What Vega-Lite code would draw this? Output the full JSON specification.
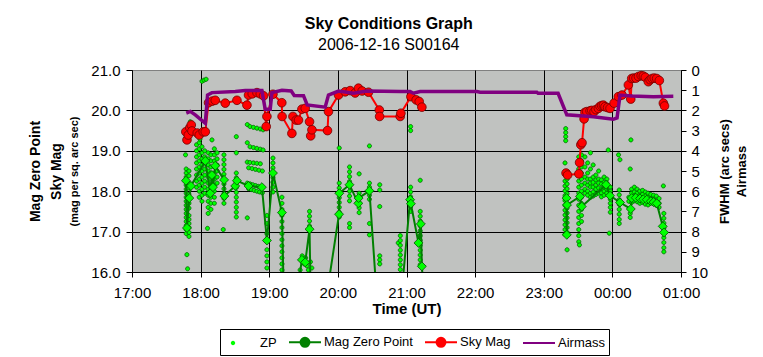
{
"$schema": "https://vega.github.io/schema/vega-lite/v6.json",
"width": 549, "height": 202,
"autosize": {"type": "none"},
"padding": {"left": 132, "top": 70, "right": 82, "bottom": 85},
"background": "white",
"config": {
  "view": {"fill": "#c0c2c0", "stroke": "#808080", "strokeWidth": 1},
  "font": "Liberation Sans",
  "axis": {"domainColor": "black", "tickColor": "black", "labelColor": "black", "titleColor": "black", "labelFont": "Liberation Sans", "titleFont": "Liberation Sans"},
  "legend": {"orient": "none", "legendX": 88, "legendY": 259, "direction": "horizontal",
    "strokeColor": "black", "fillColor": "white", "padding": 4, "labelFontSize": 13, "labelFont": "Liberation Sans", "labelColor": "black",
    "labelOffset": 18, "columnPadding": 8, "symbolSize": 256, "symbolStrokeWidth": 2, "symbolOpacity": 1}
},
"title": {"text": "Sky Conditions Graph", "subtitle": "2006-12-16 S00164", "fontSize": 16, "fontWeight": "bold", "color": "black", "subtitleFontSize": 16, "subtitleFontWeight": "normal", "subtitleColor": "black", "font": "Liberation Sans", "subtitleFont": "Liberation Sans", "anchor": "middle", "frame": "bounds", "offset": 10, "subtitlePadding": 5},
"datasets": {
"zp": [
{"t":17.79,"v":18.55},{"t":17.79,"v":18.45},{"t":17.79,"v":18.35},{"t":17.79,"v":18.25},{"t":17.79,"v":18.15},{"t":17.79,"v":18.05},{"t":17.79,"v":17.95},{"t":17.79,"v":17.85},{"t":17.79,"v":17.75},{"t":17.79,"v":17.65},{"t":17.79,"v":17.55},{"t":17.79,"v":17.45},{"t":17.79,"v":17.35},{"t":17.79,"v":17.25},{"t":17.79,"v":17.15},{"t":17.79,"v":17.05},{"t":17.79,"v":16.95},
{"t":17.83,"v":18.5},{"t":17.83,"v":18.38},{"t":17.83,"v":18.2},{"t":17.83,"v":18.08},{"t":17.83,"v":17.92},{"t":17.83,"v":17.8},{"t":17.83,"v":17.7},{"t":17.83,"v":17.58},{"t":17.83,"v":17.4},{"t":17.83,"v":17.3},{"t":17.83,"v":17.2},{"t":17.83,"v":17.1},{"t":17.83,"v":16.98},{"t":17.83,"v":16.88},
{"t":17.8,"v":16.43},{"t":17.81,"v":16.08},{"t":17.78,"v":18.9},{"t":17.85,"v":19.72},
{"t":17.94,"v":19.15},{"t":17.94,"v":19.0},{"t":17.94,"v":18.85},{"t":17.94,"v":18.7},{"t":17.94,"v":18.55},{"t":17.94,"v":18.4},{"t":17.94,"v":18.25},{"t":17.94,"v":18.1},
{"t":17.98,"v":19.2},{"t":17.98,"v":19.05},{"t":17.98,"v":18.9},{"t":17.98,"v":18.75},{"t":17.98,"v":18.6},{"t":17.98,"v":18.45},{"t":17.98,"v":18.3},{"t":17.98,"v":18.15},{"t":17.98,"v":18.0},{"t":17.98,"v":17.85},
{"t":18.02,"v":19.1},{"t":18.02,"v":18.95},{"t":18.02,"v":18.8},{"t":18.02,"v":18.65},{"t":18.02,"v":18.5},{"t":18.02,"v":18.35},{"t":18.02,"v":18.2},{"t":18.02,"v":18.05},{"t":18.02,"v":17.9},{"t":18.02,"v":17.75},
{"t":18.06,"v":19.0},{"t":18.06,"v":18.85},{"t":18.06,"v":18.7},{"t":18.06,"v":18.55},{"t":18.06,"v":18.4},{"t":18.06,"v":18.25},{"t":18.06,"v":18.1},{"t":18.06,"v":17.95},
{"t":18.02,"v":20.72},{"t":18.05,"v":20.75},{"t":18.08,"v":20.77},{"t":17.99,"v":19.29},{"t":18.165,"v":19.27},
{"t":18.11,"v":18.95},{"t":18.11,"v":18.8},{"t":18.11,"v":18.65},{"t":18.11,"v":18.5},{"t":18.11,"v":18.35},{"t":18.11,"v":18.2},{"t":18.11,"v":18.05},{"t":18.11,"v":17.9},{"t":18.11,"v":17.75},{"t":18.11,"v":17.6},{"t":18.11,"v":17.45},
{"t":18.15,"v":18.9},{"t":18.15,"v":18.75},{"t":18.15,"v":18.6},{"t":18.15,"v":18.45},{"t":18.15,"v":18.3},{"t":18.15,"v":18.15},{"t":18.15,"v":18.0},{"t":18.15,"v":17.85},{"t":18.15,"v":17.7},{"t":18.15,"v":17.55},
{"t":18.2,"v":19.05},{"t":18.2,"v":18.9},{"t":18.2,"v":18.75},{"t":18.2,"v":18.6},{"t":18.2,"v":18.45},{"t":18.2,"v":18.3},{"t":18.2,"v":18.15},{"t":18.2,"v":18.0},{"t":18.2,"v":17.85},{"t":18.2,"v":17.7},
{"t":18.24,"v":18.95},{"t":18.24,"v":18.8},{"t":18.24,"v":18.65},{"t":18.24,"v":18.5},{"t":18.24,"v":18.35},{"t":18.24,"v":18.2},{"t":18.1,"v":17.08},
{"t":18.34,"v":18.9},{"t":18.34,"v":18.78},{"t":18.34,"v":18.66},{"t":18.34,"v":18.54},{"t":18.34,"v":18.42},{"t":18.34,"v":18.3},{"t":18.34,"v":18.18},{"t":18.34,"v":18.06},{"t":18.34,"v":17.94},{"t":18.34,"v":17.82},{"t":18.34,"v":17.7},{"t":18.33,"v":17.05},
{"t":18.52,"v":18.95},{"t":18.52,"v":18.45},{"t":18.52,"v":18.33},{"t":18.52,"v":18.21},{"t":18.52,"v":18.09},{"t":18.52,"v":17.97},{"t":18.52,"v":17.85},{"t":18.52,"v":17.73},{"t":18.52,"v":17.6},{"t":18.52,"v":17.48},{"t":18.52,"v":17.36},{"t":18.52,"v":19.35},
{"t":18.68,"v":19.65},{"t":18.72,"v":19.6},{"t":18.77,"v":19.58},{"t":18.82,"v":19.56},{"t":18.87,"v":19.54},{"t":18.91,"v":19.52},
{"t":18.68,"v":19.2},{"t":18.72,"v":19.1},{"t":18.77,"v":19.08},{"t":18.82,"v":19.06},{"t":18.87,"v":19.04},{"t":18.91,"v":19.02},
{"t":18.68,"v":18.72},{"t":18.72,"v":18.71},{"t":18.77,"v":18.7},{"t":18.82,"v":18.69},{"t":18.87,"v":18.68},
{"t":18.7,"v":18.58},{"t":18.75,"v":18.56},{"t":18.8,"v":18.54},{"t":18.85,"v":18.52},{"t":18.9,"v":18.5},
{"t":18.68,"v":18.2},{"t":18.72,"v":18.18},{"t":18.76,"v":18.16},{"t":18.8,"v":18.14},{"t":18.84,"v":18.12},{"t":18.88,"v":18.1},
{"t":18.7,"v":18.06},{"t":18.74,"v":18.04},{"t":18.78,"v":18.02},{"t":18.82,"v":18.0},{"t":18.86,"v":17.98},{"t":18.9,"v":17.96},
{"t":18.68,"v":17.34},
{"t":18.966,"v":17.4},{"t":18.966,"v":17.2},{"t":18.966,"v":16.95},{"t":18.966,"v":16.8},{"t":18.966,"v":16.55},{"t":18.966,"v":16.4},{"t":18.966,"v":16.25},{"t":18.966,"v":16.1},
{"t":19.054,"v":18.82},{"t":19.054,"v":18.7},{"t":19.054,"v":18.58},{"t":19.054,"v":18.46},{"t":19.054,"v":18.34},{"t":19.054,"v":18.22},{"t":19.054,"v":18.1},{"t":19.054,"v":17.98},
{"t":19.185,"v":17.85},{"t":19.185,"v":17.7},{"t":19.185,"v":17.55},{"t":19.185,"v":17.4},{"t":19.185,"v":17.25},{"t":19.185,"v":17.1},{"t":19.185,"v":16.95},{"t":19.185,"v":16.8},{"t":19.185,"v":16.65},{"t":19.185,"v":16.5},{"t":19.185,"v":16.35},{"t":19.185,"v":16.2},{"t":19.185,"v":16.05},
{"t":19.48,"v":16.4},{"t":19.5,"v":16.3},{"t":19.51,"v":16.2},{"t":19.53,"v":16.35},{"t":19.55,"v":16.15},{"t":19.57,"v":16.05},{"t":19.6,"v":16.25},{"t":19.62,"v":16.1},{"t":19.45,"v":16.05},
{"t":19.587,"v":17.5},{"t":19.587,"v":17.38},{"t":19.587,"v":17.26},{"t":19.587,"v":17.14},{"t":19.587,"v":17.02},
{"t":20.02,"v":19.07},{"t":20.02,"v":18.2},{"t":20.02,"v":18.08},{"t":20.02,"v":17.96},{"t":20.02,"v":17.84},{"t":20.02,"v":17.72},{"t":20.02,"v":17.6},{"t":20.02,"v":17.48},{"t":20.02,"v":17.36},
{"t":20.17,"v":18.6},{"t":20.17,"v":18.48},{"t":20.17,"v":18.36},{"t":20.17,"v":18.24},{"t":20.17,"v":18.12},{"t":20.17,"v":18.0},{"t":20.17,"v":17.88},{"t":20.17,"v":17.76},{"t":20.17,"v":17.2},{"t":20.17,"v":17.1},
{"t":20.31,"v":18.43},{"t":20.31,"v":17.95},{"t":20.31,"v":17.83},{"t":20.31,"v":17.71},{"t":20.31,"v":17.59},{"t":20.31,"v":17.47},
{"t":20.46,"v":19.12},{"t":20.46,"v":18.2},{"t":20.46,"v":18.1},{"t":20.46,"v":18.0},{"t":20.46,"v":17.9},{"t":20.46,"v":17.8},{"t":20.46,"v":17.2},{"t":20.46,"v":16.92},
{"t":20.61,"v":18.16},{"t":20.61,"v":18.03},{"t":20.61,"v":17.62},{"t":20.61,"v":16.4},{"t":20.61,"v":16.3},{"t":20.61,"v":16.2},{"t":20.88,"v":16.72},
{"t":20.91,"v":16.9},{"t":20.91,"v":16.78},{"t":20.91,"v":16.66},{"t":20.91,"v":16.54},{"t":20.91,"v":16.42},{"t":20.91,"v":16.3},{"t":20.91,"v":16.18},{"t":20.91,"v":16.06},
{"t":21.06,"v":19.6},{"t":21.06,"v":19.5},
{"t":21.06,"v":18.1},{"t":21.06,"v":17.98},{"t":21.06,"v":17.86},{"t":21.06,"v":17.74},{"t":21.06,"v":17.62},{"t":21.06,"v":17.5},
{"t":21.2,"v":18.27},
{"t":21.2,"v":17.5},{"t":21.2,"v":17.38},{"t":21.2,"v":17.26},{"t":21.2,"v":17.14},{"t":21.2,"v":17.02},{"t":21.2,"v":16.9},{"t":21.2,"v":16.78},{"t":21.2,"v":16.66},{"t":21.2,"v":16.54},{"t":21.2,"v":16.42},{"t":21.2,"v":16.3},{"t":21.2,"v":16.18},
{"t":23.32,"v":19.55},{"t":23.32,"v":19.45},{"t":23.32,"v":19.35},{"t":23.32,"v":19.25},{"t":23.31,"v":18.7},
{"t":23.31,"v":18.25},{"t":23.31,"v":18.13},{"t":23.31,"v":18.01},{"t":23.31,"v":17.89},{"t":23.31,"v":17.77},{"t":23.31,"v":17.65},{"t":23.31,"v":17.53},{"t":23.31,"v":17.41},{"t":23.31,"v":17.29},{"t":23.31,"v":17.17},{"t":23.31,"v":17.05},{"t":23.31,"v":16.93},
{"t":23.34,"v":18.3},{"t":23.34,"v":18.18},{"t":23.34,"v":18.06},{"t":23.34,"v":17.94},{"t":23.34,"v":17.82},{"t":23.34,"v":17.7},{"t":23.34,"v":17.58},{"t":23.34,"v":17.46},{"t":23.34,"v":17.34},{"t":23.34,"v":17.22},{"t":23.34,"v":17.1},{"t":23.34,"v":16.98},{"t":23.34,"v":16.55},
{"t":23.51,"v":18.85},{"t":23.51,"v":18.7},{"t":23.51,"v":18.55},{"t":23.51,"v":18.4},{"t":23.51,"v":18.25},{"t":23.51,"v":18.1},{"t":23.51,"v":17.95},{"t":23.51,"v":17.8},{"t":23.51,"v":17.65},{"t":23.51,"v":17.5},{"t":23.51,"v":17.35},{"t":23.51,"v":17.2},{"t":23.51,"v":17.05},{"t":23.51,"v":16.9},{"t":23.51,"v":16.75},
{"t":23.55,"v":18.9},{"t":23.55,"v":18.75},{"t":23.55,"v":18.6},{"t":23.55,"v":18.45},{"t":23.55,"v":18.3},{"t":23.55,"v":18.15},{"t":23.55,"v":18.0},{"t":23.55,"v":17.85},{"t":23.55,"v":17.7},{"t":23.55,"v":17.55},{"t":23.55,"v":17.4},{"t":23.55,"v":17.25},{"t":23.52,"v":16.67},
{"t":23.6,"v":18.85},{"t":23.6,"v":18.6},{"t":23.6,"v":18.35},{"t":23.6,"v":18.2},{"t":23.6,"v":18.05},{"t":23.6,"v":17.95},
{"t":23.64,"v":18.7},{"t":23.64,"v":18.45},{"t":23.64,"v":18.3},{"t":23.64,"v":18.15},{"t":23.64,"v":18.0},{"t":23.64,"v":17.9},
{"t":23.68,"v":18.95},{"t":23.68,"v":18.55},{"t":23.68,"v":18.3},{"t":23.68,"v":18.2},{"t":23.68,"v":18.1},{"t":23.68,"v":17.95},{"t":23.68,"v":17.85},
{"t":23.72,"v":18.65},{"t":23.72,"v":18.35},{"t":23.72,"v":18.22},{"t":23.72,"v":18.1},{"t":23.72,"v":17.98},{"t":23.72,"v":17.88},
{"t":23.76,"v":18.4},{"t":23.76,"v":18.28},{"t":23.76,"v":18.15},{"t":23.76,"v":18.05},{"t":23.76,"v":17.92},
{"t":23.8,"v":18.5},{"t":23.8,"v":18.3},{"t":23.8,"v":18.2},{"t":23.8,"v":18.08},{"t":23.8,"v":17.95},
{"t":23.84,"v":18.28},{"t":23.84,"v":18.18},{"t":23.84,"v":18.06},{"t":23.84,"v":17.96},{"t":23.84,"v":17.86},
{"t":23.88,"v":18.35},{"t":23.88,"v":18.22},{"t":23.88,"v":18.1},{"t":23.88,"v":18.0},{"t":23.88,"v":17.9},
{"t":23.92,"v":18.3},{"t":23.92,"v":18.2},{"t":23.92,"v":18.05},{"t":23.92,"v":17.95},
{"t":23.97,"v":18.1},{"t":23.97,"v":18.0},{"t":23.97,"v":17.9},{"t":23.97,"v":17.8},{"t":23.97,"v":17.7},{"t":23.97,"v":17.6},{"t":23.97,"v":17.48},{"t":23.955,"v":16.96},{"t":23.94,"v":19.02},
{"t":24.09,"v":18.9},{"t":24.11,"v":18.78},
{"t":24.1,"v":18.03},{"t":24.1,"v":17.91},{"t":24.1,"v":17.79},{"t":24.1,"v":17.67},{"t":24.1,"v":17.55},{"t":24.1,"v":17.43},{"t":24.1,"v":17.3},{"t":24.1,"v":17.2},
{"t":24.27,"v":19.27},{"t":24.26,"v":18.55},
{"t":24.24,"v":17.85},{"t":24.24,"v":17.75},
{"t":24.28,"v":18.05},{"t":24.28,"v":17.95},{"t":24.28,"v":17.85},{"t":24.28,"v":17.72},
{"t":24.32,"v":18.1},{"t":24.32,"v":17.98},{"t":24.32,"v":17.88},{"t":24.32,"v":17.76},
{"t":24.36,"v":18.05},{"t":24.36,"v":17.95},{"t":24.36,"v":17.85},{"t":24.36,"v":17.74},
{"t":24.4,"v":18.0},{"t":24.4,"v":17.9},{"t":24.4,"v":17.8},{"t":24.4,"v":17.7},
{"t":24.44,"v":18.02},{"t":24.44,"v":17.92},{"t":24.44,"v":17.82},{"t":24.44,"v":17.72},
{"t":24.48,"v":17.98},{"t":24.48,"v":17.88},{"t":24.48,"v":17.78},{"t":24.48,"v":17.68},
{"t":24.52,"v":17.95},{"t":24.52,"v":17.85},{"t":24.52,"v":17.75},{"t":24.52,"v":17.66},
{"t":24.56,"v":17.92},{"t":24.56,"v":17.82},{"t":24.56,"v":17.72},
{"t":24.6,"v":17.9},{"t":24.6,"v":17.8},{"t":24.6,"v":17.7},
{"t":24.64,"v":17.88},{"t":24.64,"v":17.76},{"t":24.64,"v":17.65},
{"t":24.68,"v":17.82},{"t":24.68,"v":17.7},{"t":24.68,"v":17.6},
{"t":24.26,"v":17.55},{"t":24.26,"v":17.45},{"t":24.26,"v":17.35},
{"t":24.743,"v":18.13},
{"t":24.75,"v":17.45},{"t":24.75,"v":17.33},{"t":24.75,"v":17.21},{"t":24.75,"v":17.09},{"t":24.75,"v":16.97},{"t":24.75,"v":16.85},{"t":24.75,"v":16.73},{"t":24.75,"v":16.6},{"t":24.75,"v":16.5}
],
"mzp": [
{"t":17.786,"v":18.26,"seg":1},{"t":17.801,"v":17.09,"seg":1},{"t":17.835,"v":17.83,"seg":1},{"t":17.859,"v":18.13,"seg":1},{"t":18.068,"v":18.75,"seg":1},{"t":18.14,"v":17.95,"seg":1},{"t":18.165,"v":18.4,"seg":1},{"t":18.18,"v":18.1,"seg":1},{"t":18.213,"v":18.63,"seg":1},{"t":18.342,"v":18.28,"seg":1},{"t":18.346,"v":17.88,"seg":1},{"t":18.504,"v":18.13,"seg":1},{"t":18.529,"v":18.26,"seg":1},{"t":18.698,"v":18.13,"seg":1},{"t":18.893,"v":18.1,"seg":1},{"t":18.966,"v":16.78,"seg":1},{"t":19.054,"v":18.45,"seg":1},{"t":19.185,"v":17.47,"seg":1},{"t":19.22,"v":14.8,"seg":1},{"t":19.41,"v":15.56,"seg":1},{"t":19.476,"v":16.3,"seg":1},{"t":19.524,"v":16.24,"seg":1},{"t":19.587,"v":17.06,"seg":1},{"t":19.61,"v":14.8,"seg":1},{"t":19.86,"v":15.68,"seg":1},{"t":20.017,"v":17.43,"seg":1},{"t":20.021,"v":17.95,"seg":1},{"t":20.169,"v":18.16,"seg":1},{"t":20.298,"v":17.7,"seg":1},{"t":20.302,"v":17.83,"seg":1},{"t":20.46,"v":18.01,"seg":1},{"t":20.57,"v":15.31,"seg":1},{"t":20.92,"v":15.31,"seg":1},{"t":21.053,"v":17.79,"seg":1},{"t":21.064,"v":17.69,"seg":1},{"t":21.174,"v":16.72,"seg":1},{"t":21.209,"v":17.19,"seg":1},{"t":21.224,"v":16.14,"seg":1},{"t":21.26,"v":15.3,"seg":1},
{"t":23.333,"v":17.83,"seg":2},{"t":23.336,"v":16.92,"seg":2},{"t":23.339,"v":17.66,"seg":2},{"t":23.528,"v":17.87,"seg":2},{"t":23.554,"v":17.62,"seg":2},{"t":23.908,"v":18.16,"seg":2},{"t":23.966,"v":17.89,"seg":2},{"t":24.112,"v":17.72,"seg":2},{"t":24.268,"v":17.56,"seg":2},{"t":24.282,"v":17.83,"seg":2},{"t":24.34,"v":17.84,"seg":2},{"t":24.403,"v":17.82,"seg":2},{"t":24.45,"v":17.8,"seg":2},{"t":24.501,"v":17.79,"seg":2},{"t":24.56,"v":17.75,"seg":2},{"t":24.6,"v":17.73,"seg":2},{"t":24.646,"v":17.7,"seg":2},{"t":24.734,"v":17.13,"seg":2},{"t":24.753,"v":16.98,"seg":2}
],
"sky": [
{"t":17.784,"v":19.47,"seg":1},{"t":17.801,"v":19.27,"seg":1},{"t":17.82,"v":19.39,"seg":1},{"t":17.842,"v":19.57,"seg":1},{"t":17.864,"v":19.64,"seg":1},{"t":17.874,"v":19.49,"seg":1},{"t":17.951,"v":19.44,"seg":1},{"t":17.98,"v":19.39,"seg":1},{"t":18.038,"v":19.47,"seg":1},{"t":18.068,"v":19.47,"seg":1},{"t":18.116,"v":20.19,"seg":1},{"t":18.17,"v":20.23,"seg":1},{"t":18.213,"v":20.25,"seg":1},{"t":18.359,"v":20.18,"seg":1},{"t":18.529,"v":20.25,"seg":1},{"t":18.675,"v":20.13,"seg":1},{"t":18.698,"v":20.38,"seg":1},{"t":18.752,"v":20.41,"seg":1},{"t":18.821,"v":20.44,"seg":1},{"t":18.869,"v":20.41,"seg":1},{"t":18.917,"v":20.36,"seg":1},{"t":18.956,"v":19.6,"seg":1},{"t":18.966,"v":19.85,"seg":1},{"t":19.054,"v":20.4,"seg":1},{"t":19.183,"v":20.19,"seg":1},{"t":19.187,"v":19.85,"seg":1},{"t":19.33,"v":19.43,"seg":1},{"t":19.345,"v":19.85,"seg":1},{"t":19.393,"v":19.76,"seg":1},{"t":19.426,"v":19.76,"seg":1},{"t":19.476,"v":20.03,"seg":1},{"t":19.524,"v":20.05,"seg":1},{"t":19.587,"v":19.72,"seg":1},{"t":19.604,"v":19.37,"seg":1},{"t":19.622,"v":19.52,"seg":1},{"t":19.849,"v":19.5,"seg":1},{"t":19.863,"v":19.97,"seg":1},{"t":20.009,"v":20.38,"seg":1},{"t":20.107,"v":20.46,"seg":1},{"t":20.179,"v":20.49,"seg":1},{"t":20.252,"v":20.43,"seg":1},{"t":20.3,"v":20.55,"seg":1},{"t":20.354,"v":20.48,"seg":1},{"t":20.446,"v":20.45,"seg":1},{"t":20.604,"v":20.01,"seg":1},{"t":20.608,"v":19.85,"seg":1},{"t":20.908,"v":19.85,"seg":1},{"t":20.918,"v":19.93,"seg":1},{"t":21.064,"v":20.34,"seg":1},{"t":21.141,"v":20.26,"seg":1},{"t":21.185,"v":20.22,"seg":1},{"t":21.224,"v":20.08,"seg":1},
{"t":23.325,"v":18.45,"seg":2},{"t":23.347,"v":18.4,"seg":2},{"t":23.512,"v":18.43,"seg":2},{"t":23.522,"v":18.71,"seg":2},{"t":23.54,"v":19.15,"seg":2},{"t":23.558,"v":19.2,"seg":2},{"t":23.588,"v":19.79,"seg":2},{"t":23.6,"v":19.95,"seg":2},{"t":23.627,"v":19.97,"seg":2},{"t":23.675,"v":19.99,"seg":2},{"t":23.7,"v":20.0,"seg":2},{"t":23.733,"v":19.97,"seg":2},{"t":23.76,"v":20.02,"seg":2},{"t":23.796,"v":20.05,"seg":2},{"t":23.82,"v":20.1,"seg":2},{"t":23.845,"v":20.12,"seg":2},{"t":23.87,"v":20.13,"seg":2},{"t":23.893,"v":20.09,"seg":2},{"t":23.93,"v":20.07,"seg":2},{"t":23.966,"v":20.05,"seg":2},{"t":24.025,"v":20.18,"seg":2},{"t":24.087,"v":20.34,"seg":2},{"t":24.141,"v":20.38,"seg":2},{"t":24.233,"v":20.63,"seg":2},{"t":24.268,"v":20.28,"seg":2},{"t":24.282,"v":20.79,"seg":2},{"t":24.31,"v":20.8,"seg":2},{"t":24.345,"v":20.8,"seg":2},{"t":24.38,"v":20.84,"seg":2},{"t":24.42,"v":20.86,"seg":2},{"t":24.451,"v":20.85,"seg":2},{"t":24.48,"v":20.82,"seg":2},{"t":24.524,"v":20.71,"seg":2},{"t":24.55,"v":20.76,"seg":2},{"t":24.578,"v":20.79,"seg":2},{"t":24.61,"v":20.8,"seg":2},{"t":24.646,"v":20.79,"seg":2},{"t":24.684,"v":20.74,"seg":2},{"t":24.743,"v":20.18,"seg":2},{"t":24.76,"v":20.11,"seg":2}
],
"air": [
{"t":17.791,"v":2.13},{"t":17.849,"v":2.05},{"t":17.922,"v":2.22},{"t":18.068,"v":2.64},{"t":18.101,"v":1.24},{"t":18.165,"v":1.12},{"t":18.505,"v":1.06},{"t":18.65,"v":1.02},{"t":18.893,"v":1.02},{"t":18.941,"v":1.94},{"t":19.014,"v":1.94},{"t":19.039,"v":1.12},{"t":19.185,"v":1.0},{"t":19.32,"v":1.04},{"t":19.364,"v":1.26},{"t":19.499,"v":1.27},{"t":19.553,"v":1.73},{"t":19.815,"v":1.84},{"t":19.863,"v":1.24},{"t":20.009,"v":1.04},{"t":20.227,"v":1.15},{"t":20.423,"v":1.04},{"t":20.908,"v":1.07},{"t":21.053,"v":1.07},{"t":21.101,"v":1.15},{"t":21.199,"v":1.07},{"t":22.025,"v":1.07},{"t":22.073,"v":1.1},{"t":22.899,"v":1.1},{"t":22.917,"v":1.15},{"t":23.209,"v":1.15},{"t":23.336,"v":2.22},{"t":23.723,"v":2.31},{"t":24.014,"v":2.44},{"t":24.068,"v":2.37},{"t":24.112,"v":1.24},{"t":24.282,"v":1.29},{"t":24.597,"v":1.32},{"t":24.888,"v":1.3}
]
},
"layer": [
  {
    "layer": [
      {
        "data": {"name": "zp"},
        "mark": {"type": "point", "filled": true, "size": 750, "stroke": "#006400", "strokeWidth": 0.8, "opacity": 1, "clip": true},
        "encoding": {
          "x": {"field": "t", "type": "quantitative", "scale": {"domain": [17, 25], "nice": false, "zero": false},
            "axis": {"values": [17,17.5,18,18.5,19,19.5,20,20.5,21,21.5,22,22.5,23,23.5,24,24.5,25],
              "title": "Time (UT)", "titleFontSize": 15, "titleFontWeight": "bold", "titlePadding": 1,
              "labelExpr": "datum.value % 1 == 0 ? pad(toString(datum.value % 24), 2, '0', 'left') + ':00' : ''",
              "labelFontSize": 15, "labelPadding": 8, "labelFlush": false, "labelOverlap": false, "labelBound": false,
              "tickSize": 5, "tickOpacity": {"condition": {"test": "datum.value % 1 != 0", "value": 0}, "value": 1},
              "grid": true, "gridColor": "black", "gridWidth": 1,
              "gridDash": {"condition": {"test": "datum.value % 1 != 0", "value": [4, 4]}, "value": []}}},
          "y": {"field": "v", "type": "quantitative", "scale": {"domain": [16, 21], "nice": false, "zero": false},
            "axis": {"orient": "left", "values": [16,16.5,17,17.5,18,18.5,19,19.5,20,20.5,21],
              "labelExpr": "datum.value % 1 == 0 ? format(datum.value, '.1f') : ''",
              "labelFontSize": 15, "labelPadding": 6, "labelFlush": false, "labelOverlap": false, "labelBound": false,
              "tickSize": 6, "tickOpacity": {"condition": {"test": "datum.value % 1 != 0", "value": 0}, "value": 1},
              "grid": true, "gridColor": "black", "gridWidth": 1,
              "gridOpacity": {"condition": {"test": "datum.value == 21", "value": 0}, "value": 1},
              "gridDash": {"condition": {"test": "datum.value % 1 != 0", "value": [4, 4]}, "value": []},
              "title": ["Mag Zero Point", "Sky Mag"], "titleFontSize": 14, "titleFontWeight": "bold", "titleLineHeight": 21, "titlePadding": 27}},
          "color": {"datum": "ZP", "type": "nominal",
            "scale": {"domain": ["ZP", "Mag Zero Point", "Sky Mag", "Airmass"], "range": ["#00ff00", "#008000", "#ff0000", "#800080"]},
            "legend": {"title": null}},
          "shape": {"datum": "ZP", "type": "nominal",
            "scale": {"domain": ["ZP", "Mag Zero Point", "Sky Mag", "Airmass"],
              "range": ["M-0.15,0A0.15,0.15 0 1,0 0.15,0A0.15,0.15 0 1,0 -0.15,0Z",
                        "M-1,0H0.44M1.56,0H3M0.44,0A0.56,0.56 0 1,0 1.56,0A0.56,0.56 0 1,0 0.44,0Z",
                        "M-1,0H0.44M1.56,0H3M0.44,0A0.56,0.56 0 1,0 1.56,0A0.56,0.56 0 1,0 0.44,0Z",
                        "M-1,0H3"]},
            "legend": {"title": null}}
        }
      },
      {
        "data": {"name": "mzp"},
        "mark": {"type": "line", "strokeWidth": 2, "clip": true},
        "encoding": {
          "x": {"field": "t", "type": "quantitative", "scale": {"domain": [17, 25], "nice": false, "zero": false}},
          "y": {"field": "v", "type": "quantitative", "scale": {"domain": [16, 21], "nice": false, "zero": false}},
          "detail": {"field": "seg", "type": "nominal"},
          "color": {"datum": "Mag Zero Point", "type": "nominal"}
        }
      },
      {
        "data": {"name": "mzp"},
        "mark": {"type": "point", "filled": true, "shape": "diamond", "size": 80, "fill": "#00ff00", "stroke": "#005000", "strokeWidth": 0.8, "opacity": 1, "clip": true},
        "encoding": {
          "x": {"field": "t", "type": "quantitative", "scale": {"domain": [17, 25], "nice": false, "zero": false}},
          "y": {"field": "v", "type": "quantitative", "scale": {"domain": [16, 21], "nice": false, "zero": false}}
        }
      }
    ]
  },
  {
    "layer": [
      {
        "data": {"name": "sky"},
        "mark": {"type": "line", "strokeWidth": 2, "clip": true},
        "encoding": {
          "x": {"field": "t", "type": "quantitative", "scale": {"domain": [17, 25], "nice": false, "zero": false}},
          "y": {"field": "v", "type": "quantitative", "scale": {"domain": [16, 21], "nice": false, "zero": false},
            "axis": {"orient": "left", "labels": false, "ticks": false, "domain": false, "grid": false,
              "title": "(mag per sq. arc sec)", "titleFontSize": 11, "titleFontWeight": "bold", "titlePadding": 53}},
          "detail": {"field": "seg", "type": "nominal"},
          "color": {"datum": "Sky Mag", "type": "nominal"}
        }
      },
      {
        "data": {"name": "sky"},
        "mark": {"type": "point", "filled": true, "shape": "circle", "size": 75, "fill": "#ff0000", "stroke": "#700000", "strokeWidth": 0.8, "opacity": 1, "clip": true},
        "encoding": {
          "x": {"field": "t", "type": "quantitative", "scale": {"domain": [17, 25], "nice": false, "zero": false}},
          "y": {"field": "v", "type": "quantitative", "scale": {"domain": [16, 21], "nice": false, "zero": false}}
        }
      }
    ]
  },
  {
    "data": {"name": "air"},
    "mark": {"type": "line", "strokeWidth": 3.5, "clip": true},
    "encoding": {
      "x": {"field": "t", "type": "quantitative", "scale": {"domain": [17, 25], "nice": false, "zero": false}},
      "y": {"field": "v", "type": "quantitative", "scale": {"domain": [0, 10], "reverse": true, "nice": false, "zero": false},
        "axis": {"orient": "right", "values": [0,1,2,3,4,5,6,7,8,9,10], "format": "d", "labelFontSize": 15, "labelPadding": 5,
          "labelFlush": false, "labelOverlap": false, "labelBound": false, "tickSize": 5, "grid": false,
          "title": ["FWHM (arc secs)", "Airmass"], "titleFontSize": 13, "titleFontWeight": "bold", "titleAngle": -90,
          "titleBaseline": "top", "titleLineHeight": 17, "titlePadding": -6}},
      "color": {"datum": "Airmass", "type": "nominal"}
    }
  }
],
"resolve": {"scale": {"y": "independent"}}
}
